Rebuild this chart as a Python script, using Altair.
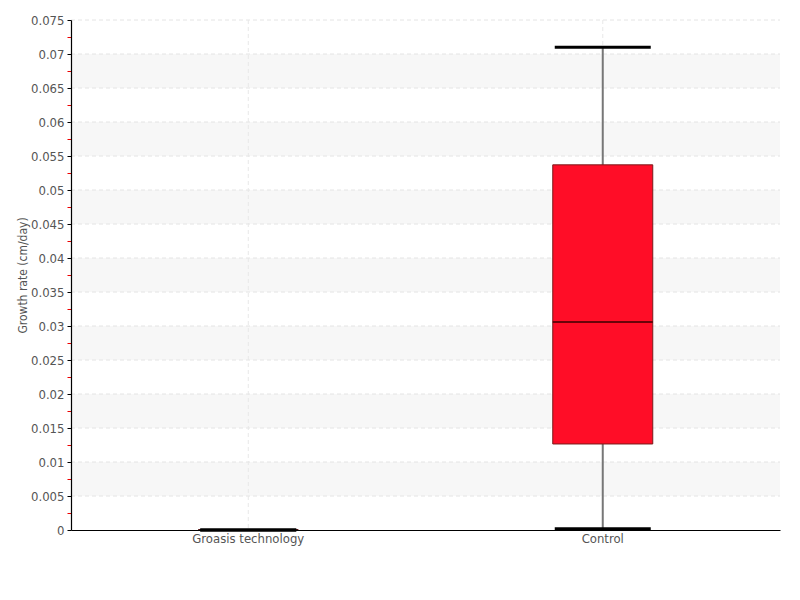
import altair as alt
import pandas as pd

groups = ["Groasis technology", "Control"]
whisker_low = [0.0, 0.0002]
q1 = [0.0, 0.01265]
median = [0.0, 0.0306]
q3 = [0.0, 0.0537]
whisker_high = [0.0, 0.0710]

y_ticks = [round(i * 0.0025, 4) for i in range(31)]
grid_vals = [round(i * 0.005, 4) for i in range(1, 16)]
band_lo = [0.005, 0.015, 0.025, 0.035, 0.045, 0.055, 0.065]
band_hi = [0.010, 0.020, 0.030, 0.040, 0.050, 0.060, 0.070]

df = pd.DataFrame({"group": groups, "lo": whisker_low, "q1": q1, "med": median,
                   "q3": q3, "hi": whisker_high})
bands = pd.DataFrame({"lo": band_lo, "hi": band_hi})
grid_df = pd.DataFrame({"v": grid_vals})

FONT = "DejaVu Sans Condensed"

yscale = alt.Scale(domain=[0, 0.075], nice=False, zero=True)
xscale = alt.Scale(domain=groups, paddingInner=0, paddingOuter=0)

major_test = "round(datum.value * 2000) % 2 == 0"

yaxis = alt.Axis(
    values=y_ticks,
    labelExpr="round(datum.value * 2000) % 2 == 0 ? format(datum.value, '~g') : ''",
    labelOverlap=False,
    tickColor={"condition": {"test": major_test, "value": "#000000"}, "value": "#ee0000"},
    grid=False, zindex=1,
    tickSize=4, domainColor="#000000", domainWidth=1.2,
    labelColor="#555555", labelFont=FONT, labelFontSize=13, labelPadding=3,
    title="Growth rate (cm/day)", titleFont=FONT, titleFontSize=12,
    titleFontWeight="normal", titleColor="#555555", titlePadding=1,
)
xaxis = alt.Axis(
    title=None, labelAngle=0, ticks=False, grid=False, zindex=1,
    domainColor="#000000", domainWidth=1.2,
    labelColor="#555555", labelFont=FONT, labelFontSize=13, labelPadding=2,
)

band_layer = alt.Chart(bands).mark_rect(color="#f7f7f7").encode(
    y=alt.Y("lo:Q", scale=yscale, axis=yaxis),
    y2="hi:Q",
    x=alt.value(0), x2=alt.value(709),
)

hgrid = alt.Chart(grid_df).mark_rule(color="#e4e4e4", strokeDash=[4, 3], strokeWidth=1).encode(
    y=alt.Y("v:Q", scale=yscale, axis=yaxis),
    x=alt.value(0), x2=alt.value(709),
)

base = alt.Chart(df).encode(x=alt.X("group:N", scale=xscale, axis=xaxis, sort=groups))

vgrid = base.mark_rule(color="#e8e8e8", strokeDash=[4, 3], strokeWidth=1).encode(
    y=alt.value(0), y2=alt.value(510))

whisk = base.mark_rule(color="#777777", strokeWidth=2).encode(
    y=alt.Y("lo:Q", scale=yscale, axis=yaxis), y2="hi:Q")
box = base.mark_bar(size=100, color="#ff0d27", stroke="#7a1a1a", strokeWidth=1, opacity=1).encode(
    y=alt.Y("q1:Q", scale=yscale, axis=yaxis), y2="q3:Q")
med = base.mark_tick(size=100, thickness=1.5, color="#3a0000", opacity=1).encode(
    y=alt.Y("med:Q", scale=yscale, axis=yaxis))
cap_hi = base.mark_tick(size=96, thickness=3, color="#000000", opacity=1).encode(
    y=alt.Y("hi:Q", scale=yscale, axis=yaxis))
cap_lo = base.mark_tick(size=96, thickness=3, color="#000000", opacity=1).encode(
    y=alt.Y("lo:Q", scale=yscale, axis=yaxis))

chart = alt.layer(band_layer, hgrid, vgrid, whisk, box, med, cap_hi, cap_lo).properties(
    width=709, height=510, padding={"left": 8, "top": 6, "right": 5, "bottom": 5},
).configure(background="white").configure_view(stroke=None)

chart.save("out.html", embed_options={"renderer": "svg", "actions": False})
